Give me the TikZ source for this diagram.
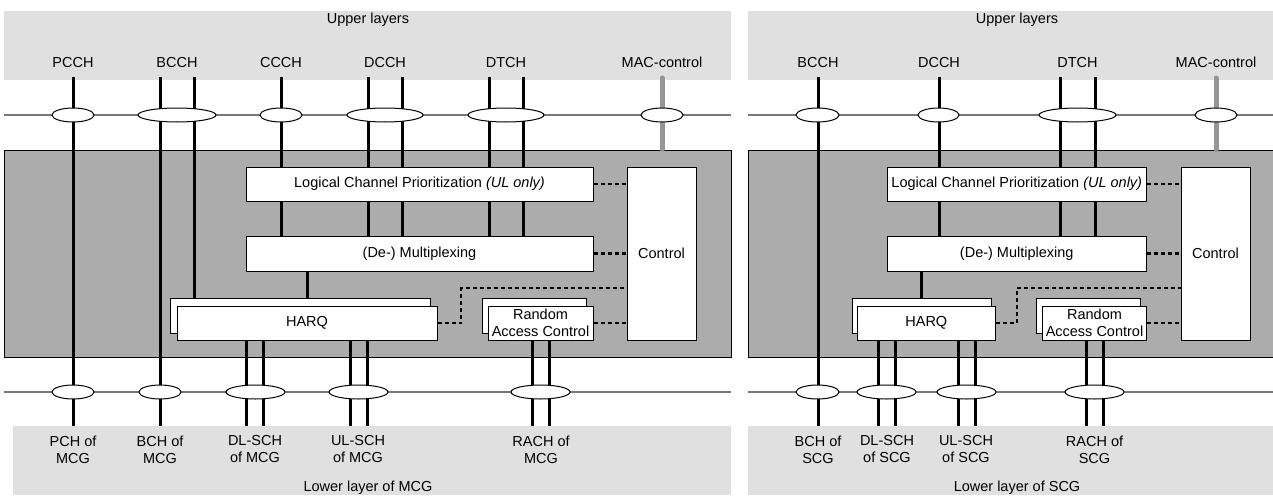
\documentclass[tikz,border=0pt]{standalone}
\usepackage{fontspec}
\setmainfont{Liberation Sans}
\usetikzlibrary{shapes.geometric}
\definecolor{bandgray}{RGB}{224,224,224}
\definecolor{macgray}{RGB}{172,172,172}
\definecolor{hlgray}{RGB}{120,120,120}
\definecolor{ctlgray}{RGB}{150,150,150}
\begin{document}
\begin{tikzpicture}[x=1pt,y=-1pt,
  font=\fontsize{14.5}{17}\selectfont,
  box/.style={draw=black, line width=1pt, fill=white, inner sep=0pt, align=center},
  oval/.style={ellipse, draw=black, line width=1pt, fill=white, inner sep=0pt, minimum height=14pt},
  chan/.style={line width=3pt},
  macline/.style={line width=5pt, draw=ctlgray, line cap=round},
  ctrldash/.style={line width=2.7pt, dash pattern=on 4pt off 3pt},
  hl/.style={draw=hlgray, line width=1.4pt},
  lbl/.style={inner sep=0pt, align=center},
  toplbl/.style={lbl, anchor=base},
  botlbl/.style={lbl, anchor=north}]
\useasboundingbox (0,0) rectangle (1273,495);

% ---------- backgrounds ----------
\fill[bandgray] (4,11) rectangle (731,80);
\fill[bandgray] (13,426) rectangle (731,495);
\fill[bandgray] (748,11) rectangle (1273,80);
\fill[bandgray] (748,426) rectangle (1273,495);

\coordinate (hlLa) at (4,115);   \coordinate (hlLb) at (731,115);
\coordinate (llLa) at (4,392);   \coordinate (llLb) at (731,392);
\coordinate (hlRa) at (748,115); \coordinate (hlRb) at (1273,115);
\coordinate (llRa) at (748,392); \coordinate (llRb) at (1273,392);
\draw[hl] (hlLa) -- (hlLb);
\draw[hl] (llLa) -- (llLb);
\draw[hl] (hlRa) -- (hlRb);
\draw[hl] (llRa) -- (llRb);

\draw[fill=macgray, line width=1pt] (4,150) rectangle (731,357);
\fill[macgray] (748,150) rectangle (1273,357);
\draw[line width=1pt] (1273,150) -- (748,150) -- (748,357) -- (1273,357);

% ---------- texts of the bands ----------
\node[toplbl] (upL) at (368,24) {Upper layers};
\node[toplbl] (upR) at (1017,24) {Upper layers};
\node[toplbl] (lowL) at (368,491) {Lower layer of MCG};
\node[toplbl] (lowR) at (1017,491) {Lower layer of SCG};

\node[toplbl] (pcchL) at (73,67) {PCCH};
\node[toplbl] (bcchL) at (177,67) {BCCH};
\node[toplbl] (ccchL) at (281,67) {CCCH};
\node[toplbl] (dcchL) at (385,67) {DCCH};
\node[toplbl] (dtchL) at (506,67) {DTCH};
\node[toplbl] (macL) at (662,67) {MAC-control};

\node[toplbl] (bcchR) at (818,67) {BCCH};
\node[toplbl] (dcchR) at (939,67) {DCCH};
\node[toplbl] (dtchR) at (1077.5,67) {DTCH};
\node[toplbl] (macR) at (1216,67) {MAC-control};

\node[botlbl] (pchL) at (73,435.5) {PCH of\\MCG};
\node[botlbl] (bchL) at (160,435.5) {BCH of\\MCG};
\node[botlbl] (dlschL) at (255,435.5) {DL-SCH\\of MCG};
\node[botlbl] (ulschL) at (358,435.5) {UL-SCH\\of MCG};
\node[botlbl] (rachL) at (541,435.5) {RACH of\\MCG};

\node[botlbl] (bchR) at (818,435.5) {BCH of\\SCG};
\node[botlbl] (dlschR) at (887,435.5) {DL-SCH\\of SCG};
\node[botlbl] (ulschR) at (966,435.5) {UL-SCH\\of SCG};
\node[botlbl] (rachR) at (1094.5,435.5) {RACH of\\SCG};

% ---------- boxes, left (MCG) ----------
\node[box, minimum width=347pt, minimum height=34pt] (lcpL) at (419.5,184) {Logical Channel Prioritization \textit{(UL only)}};
\node[box, minimum width=347pt, minimum height=35pt] (muxL) at (419.5,253.5) {(De-) Multiplexing};
\node[box, minimum width=69pt, minimum height=173pt] (ctlL) at (661.5,253.5) {Control};
\node[box, minimum width=260pt, minimum height=35pt] (harqLb) at (300,315.5) {};
\node[box, minimum width=260pt, minimum height=34pt] (harqL) at (307,323) {HARQ};
\node[box, minimum width=104pt, minimum height=35pt] (racLb) at (534,315.5) {};
\node[box, minimum width=105pt, minimum height=34pt] (racL) at (540.5,323) {Random\\Access Control};

% ---------- boxes, right (SCG) ----------
\node[box, minimum width=259.5pt, minimum height=34pt] (lcpR) at (1016.75,184) {Logical Channel Prioritization \textit{(UL only)}};
\node[box, minimum width=259.5pt, minimum height=35pt] (muxR) at (1016.75,253.5) {(De-) Multiplexing};
\node[box, minimum width=69pt, minimum height=173pt] (ctlR) at (1215.5,253.5) {Control};
\node[box, minimum width=139pt, minimum height=35pt] (harqRb) at (921.5,315.5) {};
\node[box, minimum width=138.6pt, minimum height=34pt] (harqR) at (926.3,323) {HARQ};
\node[box, minimum width=104pt, minimum height=35pt] (racRb) at (1088,315.5) {};
\node[box, minimum width=104pt, minimum height=34pt] (racR) at (1094.5,323) {Random\\Access Control};

% ---------- channel lines, left ----------
\coordinate (tPCCH) at (73,77);   \coordinate (bPCH) at (73,426);
\coordinate (tBCCHa) at (160,77); \coordinate (bBCH) at (160,426);
\coordinate (tBCCHb) at (194,77);
\coordinate (tCCCH) at (281,77);
\coordinate (tDCCHa) at (368,77); \coordinate (tDCCHb) at (402,77);
\coordinate (tDTCHa) at (489,77); \coordinate (tDTCHb) at (523,77);
\coordinate (tMACL) at (662,78);
\coordinate (xMuxL) at (307,0);
\coordinate (bDLa) at (246,426); \coordinate (bDLb) at (263,426);
\coordinate (bULa) at (350,426); \coordinate (bULb) at (367,426);
\coordinate (bRAa) at (532,426); \coordinate (bRAb) at (549,426);

\draw[chan] (tPCCH) -- (bPCH);
\draw[chan] (tBCCHa) -- (bBCH);
\draw[chan] (tBCCHb) -- (tBCCHb |- harqLb.north);
\foreach \c in {tCCCH,tDCCHa,tDCCHb,tDTCHa,tDTCHb}{
  \draw[chan] (\c) -- (\c |- lcpL.north);
  \draw[chan] (\c |- lcpL.south) -- (\c |- muxL.north);
}
\draw[chan] (xMuxL |- muxL.south) -- (xMuxL |- harqLb.north);
\foreach \c in {bDLa,bDLb,bULa,bULb}{ \draw[chan] (\c |- harqL.south) -- (\c); }
\foreach \c in {bRAa,bRAb}{ \draw[chan] (\c |- racL.south) -- (\c); }
\draw[macline] (tMACL) -- (tMACL |- 0,149.5);

% ---------- channel lines, right ----------
\coordinate (tBCCHR) at (818,77);  \coordinate (bBCHR) at (818,426);
\coordinate (tDCCHR) at (939,77);
\coordinate (tDTCHRa) at (1060,77); \coordinate (tDTCHRb) at (1095,77);
\coordinate (tMACR) at (1216,78);
\coordinate (xMuxR) at (921,0);
\coordinate (bDLRa) at (878,426); \coordinate (bDLRb) at (895,426);
\coordinate (bULRa) at (958,426); \coordinate (bULRb) at (975,426);
\coordinate (bRARa) at (1086,426); \coordinate (bRARb) at (1103,426);

\draw[chan] (tBCCHR) -- (bBCHR);
\foreach \c in {tDCCHR,tDTCHRa,tDTCHRb}{
  \draw[chan] (\c) -- (\c |- lcpR.north);
  \draw[chan] (\c |- lcpR.south) -- (\c |- muxR.north);
}
\draw[chan] (xMuxR |- muxR.south) -- (xMuxR |- harqRb.north);
\foreach \c in {bDLRa,bDLRb,bULRa,bULRb}{ \draw[chan] (\c |- harqR.south) -- (\c); }
\foreach \c in {bRARa,bRARb}{ \draw[chan] (\c |- racR.south) -- (\c); }
\draw[macline] (tMACR) -- (tMACR |- 0,149.5);

% ---------- control (dashed) ----------
\coordinate (bendL) at (461,288);
\coordinate (bendR) at (1017,288);
\draw[ctrldash] (lcpL.east) -- (lcpL.east -| ctlL.west);
\draw[ctrldash] (muxL.east) -- (muxL.east -| ctlL.west);
\draw[ctrldash] (harqL.east) -| (bendL) -- (bendL -| ctlL.west);
\draw[ctrldash] (racL.east) -- (racL.east -| ctlL.west);
\draw[ctrldash] (lcpR.east) -- (lcpR.east -| ctlR.west);
\draw[ctrldash] (muxR.east) -- (muxR.east -| ctlR.west);
\draw[ctrldash] (harqR.east) -| (bendR) -- (bendR -| ctlR.west);
\draw[ctrldash] (racR.east) -- (racR.east -| ctlR.west);

% ---------- SAP ellipses ----------
\node[oval, minimum width=42pt] (sPCCH) at (73,115) {};
\node[oval, minimum width=78pt] (sBCCH) at (177,115) {};
\node[oval, minimum width=42pt] (sCCCH) at (281,115) {};
\node[oval, minimum width=76pt] (sDCCH) at (385,115) {};
\node[oval, minimum width=76pt] (sDTCH) at (506,115) {};
\node[oval, minimum width=42pt] (sMACL) at (662,115) {};
\node[oval, minimum width=42pt] (sPCH) at (73,392) {};
\node[oval, minimum width=42pt] (sBCH) at (160,392) {};
\node[oval, minimum width=59pt] (sDL) at (255.5,392) {};
\node[oval, minimum width=59pt] (sUL) at (358.5,392) {};
\node[oval, minimum width=59pt] (sRA) at (540.5,392) {};

\node[oval, minimum width=43pt] (sBCCHR) at (817.5,115) {};
\node[oval, minimum width=41pt] (sDCCHR) at (938.5,115) {};
\node[oval, minimum width=77pt] (sDTCHR) at (1077.5,115) {};
\node[oval, minimum width=42pt] (sMACR) at (1216,115) {};
\node[oval, minimum width=43pt] (sBCHR) at (817.5,392) {};
\node[oval, minimum width=59pt] (sDLR) at (886.5,392) {};
\node[oval, minimum width=59pt] (sULR) at (966.5,392) {};
\node[oval, minimum width=59pt] (sRAR) at (1094.5,392) {};
\end{tikzpicture}
\end{document}
